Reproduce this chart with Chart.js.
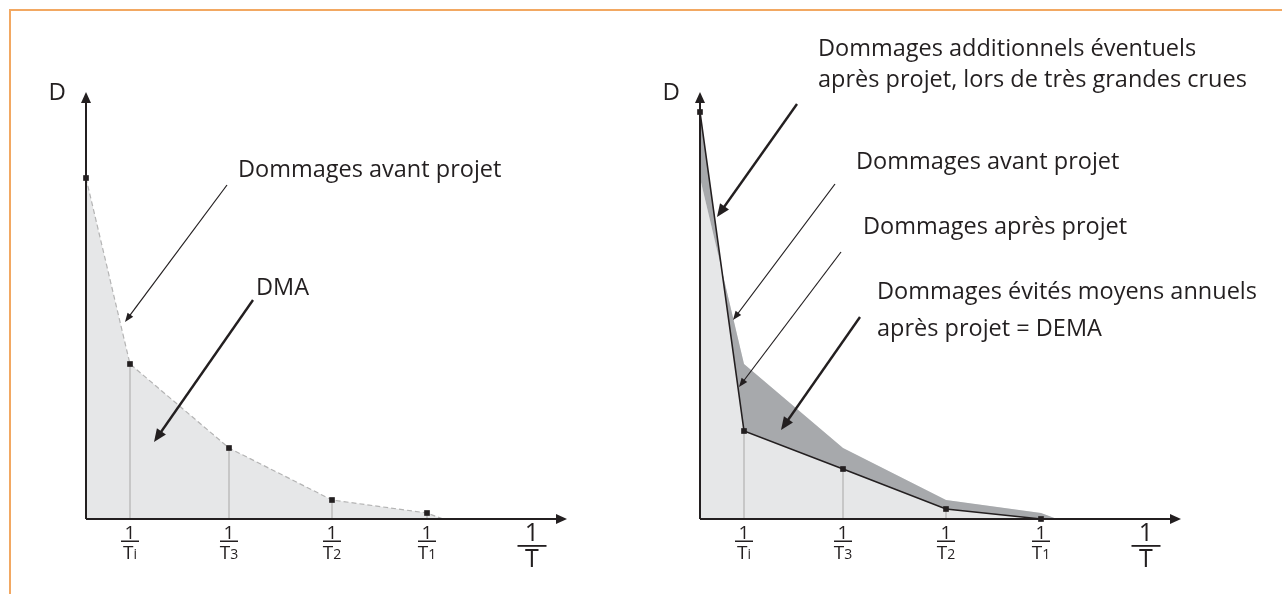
<!DOCTYPE html>
<html>
<head>
<meta charset="utf-8">
<script src="https://cdn.jsdelivr.net/npm/chart.js@4.4.0/dist/chart.umd.min.js"></script>
<style>
  html, body { margin: 0; padding: 0; background: #fff; }
  #page { position: relative; width: 1282px; height: 594px; overflow: hidden; }
  #frame { position: absolute; left: 9px; top: 9px; right: -4px; bottom: -4px;
           border-top: 2px solid #f2a862; border-left: 2px solid #f2a862; }
  canvas { position: absolute; top: 0; }
</style>
</head>
<body>
<div id="page">
  <div id="frame"></div>
  <canvas id="avant" width="641" height="594" style="left:0"></canvas>
  <canvas id="apres" width="641" height="594" style="left:641px"></canvas>
</div>
<script>
// valeurs (x = 1/T, y = D, unités arbitraires)
const freqX      = [0, 0.044, 0.143, 0.246, 0.341, 0.357];
const dommAvant  = [341, 155, 71, 19, 6, 0];
const dommApres  = [407, 88, 50, 10, 0, 0];
const tickX      = [0.044, 0.143, 0.246, 0.341];
const tickIndice = ['i', '3', '2', '1'];
const xMax = 0.481;
const yMax = 427;

const ink = '#231f20';
const gris = '#e6e7e8';
const grisFonce = '#a7a9ac';
const police = '"Open Sans", Lato, sans-serif';

function points(ys) {
  return freqX.map((x, i) => ({ x: x, y: ys[i] }));
}

function fleche(ctx, x1, y1, x2, y2, w, hl, hw) {
  const a = Math.atan2(y2 - y1, x2 - x1);
  const c = Math.cos(a), s = Math.sin(a);
  ctx.beginPath();
  ctx.moveTo(x1, y1);
  ctx.lineTo(x2 - c * hl * 0.8, y2 - s * hl * 0.8);
  ctx.lineWidth = w;
  ctx.strokeStyle = ink;
  ctx.stroke();
  ctx.beginPath();
  ctx.moveTo(x2, y2);
  ctx.lineTo(x2 - c * hl - s * hw, y2 - s * hl + c * hw);
  ctx.lineTo(x2 - c * hl + s * hw, y2 - s * hl - c * hw);
  ctx.closePath();
  ctx.fillStyle = ink;
  ctx.fill();
}

const panneau = {
  id: 'panneau',
  // traits verticaux gris sous les points
  beforeDatasetsDraw(chart, args, opts) {
    const { ctx, scales: { x, y } } = chart;
    const data = chart.data.datasets[opts.drop].data;
    ctx.save();
    ctx.strokeStyle = '#bdbdbd';
    ctx.lineWidth = 1.5;
    tickX.forEach(v => {
      const p = data.find(d => d.x === v);
      if (!p) return;
      const px = x.getPixelForValue(v);
      ctx.beginPath();
      ctx.moveTo(px, y.getPixelForValue(p.y));
      ctx.lineTo(px, y.bottom);
      ctx.stroke();
    });
    ctx.restore();
  },
  afterDatasetsDraw(chart, args, opts) {
    const { ctx, chartArea: ca, scales: { x } } = chart;
    ctx.save();
    // axes avec flèches
    ctx.strokeStyle = ink;
    ctx.fillStyle = ink;
    ctx.lineWidth = 2;
    ctx.beginPath();
    ctx.moveTo(ca.left, ca.bottom);
    ctx.lineTo(ca.left, ca.top + 8);
    ctx.moveTo(ca.left, ca.bottom);
    ctx.lineTo(ca.right - 8, ca.bottom);
    ctx.stroke();
    ctx.beginPath();
    ctx.moveTo(ca.left, ca.top);
    ctx.lineTo(ca.left - 5, ca.top + 11);
    ctx.lineTo(ca.left + 5, ca.top + 11);
    ctx.closePath();
    ctx.fill();
    ctx.beginPath();
    ctx.moveTo(ca.right, ca.bottom);
    ctx.lineTo(ca.right - 11, ca.bottom - 5);
    ctx.lineTo(ca.right - 11, ca.bottom + 5);
    ctx.closePath();
    ctx.fill();

    // D
    ctx.font = '24px ' + police;
    ctx.textAlign = 'right';
    ctx.textBaseline = 'alphabetic';
    ctx.fillText('D', ca.left - 20, ca.top + 8);

    // étiquettes 1/Tx
    tickX.forEach((v, i) => {
      const px = x.getPixelForValue(v);
      ctx.font = '19px ' + police;
      ctx.textAlign = 'center';
      ctx.fillText('1', px, ca.bottom + 20);
      ctx.fillRect(px - 9, ca.bottom + 21.5, 18, 1.5);
      const wT = ctx.measureText('T').width;
      ctx.font = '14px ' + police;
      const wS = ctx.measureText(tickIndice[i]).width;
      const x0 = px - (wT + wS) / 2;
      ctx.textAlign = 'left';
      ctx.font = '19px ' + police;
      ctx.fillText('T', x0, ca.bottom + 40);
      ctx.font = '14px ' + police;
      ctx.fillText(tickIndice[i], x0 + wT, ca.bottom + 40);
    });
    const pT = ca.left + 446;
    ctx.textAlign = 'center';
    ctx.font = '25px ' + police;
    ctx.fillText('1', pT, ca.bottom + 22);
    ctx.fillRect(pT - 14.5, ca.bottom + 26, 29, 1.8);
    ctx.fillText('T', pT, ca.bottom + 48);

    // annotations
    ctx.textAlign = 'left';
    ctx.font = '23.5px ' + police;
    opts.textes.forEach(t => ctx.fillText(t[0], t[1], t[2]));
    opts.fleches.forEach(f => fleche(ctx, ...f));
    ctx.restore();
  }
};

function graphique(id, datasets, padding, extra) {
  return new Chart(document.getElementById(id), {
    type: 'line',
    data: { datasets: datasets },
    options: {
      responsive: false,
      animation: false,
      layout: { padding: padding },
      scales: {
        x: { type: 'linear', min: 0, max: xMax, display: false },
        y: { min: 0, max: yMax, display: false }
      },
      elements: { line: { tension: 0 } },
      plugins: {
        legend: { display: false },
        tooltip: { enabled: false },
        filler: { drawTime: 'beforeDatasetsDraw' },
        panneau: extra
      }
    },
    plugins: [panneau]
  });
}

const marque = ctx => (ctx.dataIndex < freqX.length - 1 ? 4 : 0);

// graphique de gauche : dommages avant projet, DMA
graphique('avant', [{
  data: points(dommAvant),
  borderColor: '#b4b4b4',
  borderWidth: 1.2,
  borderDash: [5, 3],
  backgroundColor: gris,
  fill: 'origin',
  pointStyle: 'rect',
  pointRadius: marque,
  pointBackgroundColor: ink,
  pointBorderWidth: 0,
  clip: false
}], { left: 86, right: 74, top: 92, bottom: 75 }, {
  drop: 0,
  textes: [
    ['Dommages avant projet', 238, 177],
    ['DMA', 256, 295]
  ],
  fleches: [
    [227, 185, 125, 322, 1.2, 9, 3.5],
    [253, 300, 154, 442, 2.4, 13, 5.5]
  ]
});

// graphique de droite : avant / après projet, DEMA
graphique('apres', [{
  data: points(dommApres),
  borderColor: ink,
  borderWidth: 1.6,
  backgroundColor: grisFonce,
  fill: '+1',
  pointStyle: 'rect',
  pointRadius: marque,
  pointBackgroundColor: ink,
  pointBorderWidth: 0,
  clip: false
}, {
  data: points(dommAvant),
  borderColor: 'rgba(0,0,0,0)',
  borderWidth: 0,
  backgroundColor: gris,
  fill: 'origin',
  pointRadius: 0
}], { left: 59, right: 101, top: 92, bottom: 75 }, {
  drop: 0,
  textes: [
    ['Dommages additionnels éventuels', 177, 56],
    ['après projet, lors de très grandes crues', 177, 87],
    ['Dommages avant projet', 215, 169],
    ['Dommages après projet', 222, 234],
    ['Dommages évités moyens annuels', 236, 299],
    ['après projet = DEMA', 236, 336]
  ],
  fleches: [
    [156, 104, 76, 217, 2.4, 13, 5.5],
    [194, 184, 92, 320, 1.2, 9, 3.5],
    [200, 252, 98, 387, 1.2, 9, 3.5],
    [219, 317, 140, 430, 2.4, 13, 5.5]
  ]
});
</script>
</body>
</html>
